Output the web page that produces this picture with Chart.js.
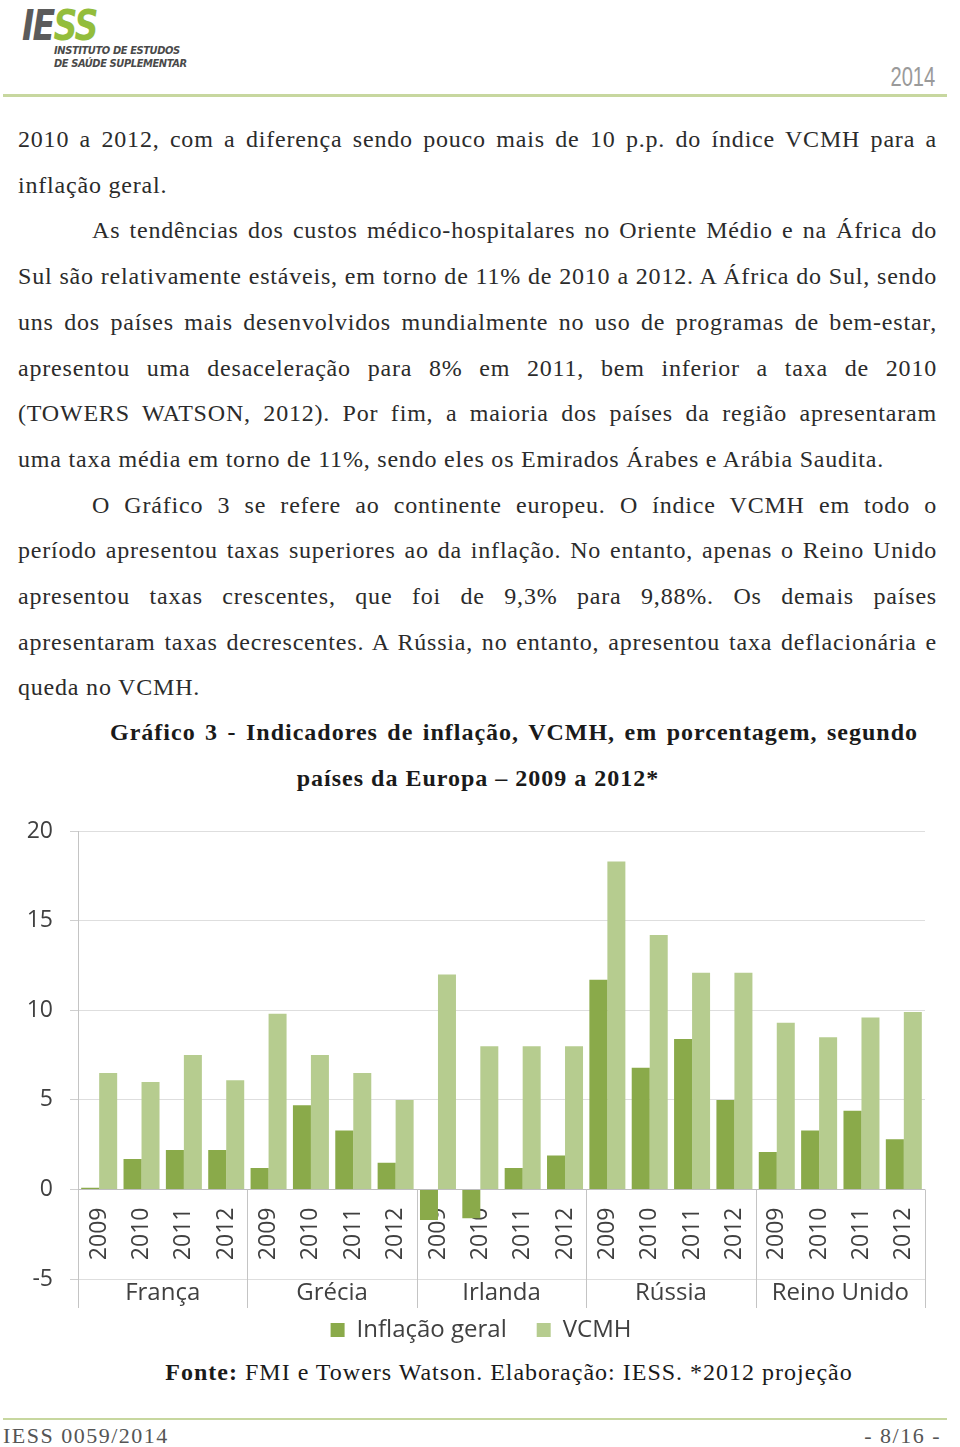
<!DOCTYPE html>
<html lang="pt">
<head>
<meta charset="utf-8">
<script src="https://cdn.jsdelivr.net/npm/chart.js@4/dist/chart.umd.min.js"></script>
<style>
  html, body { margin: 0; padding: 0; background: #fff; }
  body { width: 960px; height: 1447px; position: relative; overflow: hidden; }
  .abs { position: absolute; }
  .logo { left: 22px; top: 5px; font-family: "Liberation Sans Narrow", "DejaVu Sans Condensed", sans-serif; font-weight: bold; font-style: italic; font-size: 42px; letter-spacing: -2px; line-height: 42px; transform: scaleX(0.88); transform-origin: left top; }
  .logo .g { color: #5b5b5b; }
  .logo .v { color: #93bd3c; }
  .logosub { left: 54px; top: 44px; font-family: "Liberation Sans Narrow", "DejaVu Sans Condensed", sans-serif; font-weight: bold; font-style: italic; font-size: 11px; line-height: 13px; color: #4a4a4a; letter-spacing: -0.4px; }
  .year { right: 25px; top: 61px; font-family: "Liberation Sans", sans-serif; font-size: 28px; color: #9a9a9a; transform: scaleX(0.72); transform-origin: right top; }
  .rule { left: 3px; width: 944px; height: 3px; background: #c7d79f; }
  .text { left: 18px; width: 919px; top: 117px; font-family: "Liberation Serif", "DejaVu Serif", serif; font-size: 24px; letter-spacing: 0.8px; line-height: 45.7px; color: #2b2b2b; }
  .text div { white-space: nowrap; }
  .j { text-align: justify; text-align-last: justify; }
  .ind { padding-left: 74px; }
  .title { font-family: "Liberation Serif", serif; font-weight: bold; font-size: 24px; letter-spacing: 1px; color: #1a1a1a; white-space: nowrap; }
  .fonte { left: 0; width: 1018px; text-align: center; top: 1359px; font-family: "Liberation Serif", serif; font-size: 24px; letter-spacing: 1px; color: #1a1a1a; }
  .foot { top: 1423px; font-family: "Liberation Serif", serif; font-size: 22px; letter-spacing: 1.5px; color: #555; }
  #wrap { left: 0; top: 810px; width: 960px; height: 542px; }
</style>
</head>
<body>
<div class="abs logo"><span class="g">IE</span><span class="v">SS</span></div>
<div class="abs logosub">INSTITUTO DE ESTUDOS<br>DE SAÚDE SUPLEMENTAR</div>
<div class="abs year">2014</div>
<div class="abs rule" style="top:94px"></div>

<div class="abs text">
  <div class="j">2010 a 2012, com a diferença sendo pouco mais de 10 p.p. do índice VCMH para a</div>
  <div>inflação geral.</div>
  <div class="j ind">As tendências dos custos médico-hospitalares no Oriente Médio e na África do</div>
  <div class="j">Sul são relativamente estáveis, em torno de 11% de 2010 a 2012. A África do Sul, sendo</div>
  <div class="j">uns dos países mais desenvolvidos mundialmente no uso de programas de bem-estar,</div>
  <div class="j">apresentou uma desaceleração para 8% em 2011, bem inferior a taxa de 2010</div>
  <div class="j">(TOWERS WATSON, 2012). Por fim, a maioria dos países da região apresentaram</div>
  <div>uma taxa média em torno de 11%, sendo eles os Emirados Árabes e Arábia Saudita.</div>
  <div class="j ind">O Gráfico 3 se refere ao continente europeu. O índice VCMH em todo o</div>
  <div class="j">período apresentou taxas superiores ao da inflação. No entanto, apenas o Reino Unido</div>
  <div class="j">apresentou taxas crescentes, que foi de 9,3% para 9,88%. Os demais países</div>
  <div class="j">apresentaram taxas decrescentes. A Rússia, no entanto, apresentou taxa deflacionária e</div>
  <div>queda no VCMH.</div>
</div>

<div class="abs title j" style="left:110px; width:808px; top:719px;">Gráfico 3 - Indicadores de inflação, VCMH, em porcentagem, segundo</div>
<div class="abs title" style="left:0; width:956px; text-align:center; top:765px;">países da Europa – 2009 a 2012*</div>

<div class="abs" id="wrap"><canvas id="c" width="960" height="542"></canvas></div>

<div class="abs fonte"><b>Fonte:</b> FMI e Towers Watson. Elaboração: IESS. *2012 projeção</div>

<div class="abs rule" style="top:1418px; height:2px"></div>
<div class="abs foot" style="left:3px">IESS 0059/2014</div>
<div class="abs foot" style="right:19px">- 8/16 -</div>

<script>
const countries = ["França", "Grécia", "Irlanda", "Rússia", "Reino Unido"];
const years = ["2009", "2010", "2011", "2012"];
const categories = ["2009","2010","2011","2012","2009","2010","2011","2012","2009","2010","2011","2012","2009","2010","2011","2012","2009","2010","2011","2012"];
const inflacaoGeral = [0.1, 1.7, 2.2, 2.2, 1.2, 4.7, 3.3, 1.5, -1.7, -1.6, 1.2, 1.9, 11.7, 6.8, 8.4, 5.0, 2.1, 3.3, 4.4, 2.8];
const vcmh = [6.5, 6.0, 7.5, 6.1, 9.8, 7.5, 6.5, 5.0, 12.0, 8.0, 8.0, 8.0, 18.3, 14.2, 12.1, 12.1, 9.3, 8.5, 9.6, 9.9];
const yTicks = [-5, 0, 5, 10, 15, 20];

const FONT = "'Open Sans', 'Noto Sans', sans-serif";

const dividers = {
  id: 'dividers',
  afterLayout(chart) {
    // legend centred a little left of the plot, as in the original
    const lg = chart.legend;
    if (lg) { lg.left = chart.chartArea.left - 41; }
  },
  afterDraw(chart) {
    const xc = chart.scales.xc, y = chart.scales.y;
    const ctx = chart.ctx;
    const top = y.getPixelForValue(0);
    const bottom = xc.bottom;
    ctx.save();
    ctx.strokeStyle = '#c4c4c4';
    ctx.lineWidth = 1;
    for (let i = 0; i <= countries.length; i++) {
      const px = Math.round(xc.getPixelForValue(i - 0.5)) + 0.5;
      ctx.beginPath();
      ctx.moveTo(px, top);
      ctx.lineTo(px, bottom);
      ctx.stroke();
    }
    ctx.restore();
  }
};

new Chart(document.getElementById('c'), {
  type: 'bar',
  data: {
    labels: categories,
    datasets: [
      { label: 'Inflação geral', data: inflacaoGeral, backgroundColor: '#8aaa4a', xAxisID: 'x', categoryPercentage: 0.85, barPercentage: 1.0 },
      { label: 'VCMH', data: vcmh, backgroundColor: '#b6cc8f', xAxisID: 'x', categoryPercentage: 0.85, barPercentage: 1.0 }
    ]
  },
  options: {
    responsive: false,
    animation: false,
    layout: { padding: { left: 0, right: 35, top: 21, bottom: 0 } },
    plugins: {
      tooltip: { enabled: false },
      legend: {
        position: 'bottom',
        title: { display: true, text: '', font: { size: 10, lineHeight: 1 }, padding: { top: -30, bottom: 0 } },
        labels: { font: { family: FONT, size: 24 }, color: '#404040', boxWidth: 14, boxHeight: 14, padding: 30 }
      }
    },
    scales: {
      y: {
        min: -5, max: 20,
        afterBuildTicks(s) { s.ticks = yTicks.map(v => ({ value: v })); },
        afterFit(s) { s.width = 78; s.paddingTop = 0; },
        ticks: { font: { family: FONT, size: 23 }, color: '#404040', padding: 17 },
        grid: { color: (c) => c.tick && c.tick.value === 0 ? '#bdbdbd' : '#dedede', tickLength: 8, tickColor: '#cfcfcf' },
        border: { display: true, color: '#c4c4c4' }
      },
      x: {
        position: { y: 0 },
        offset: true,
        ticks: { font: { family: FONT, size: 23 }, color: '#404040', minRotation: 90, maxRotation: 90, autoSkip: false, padding: 10 },
        grid: { display: false },
        border: { display: false }
      },
      xc: {
        type: 'category',
        position: 'bottom',
        labels: countries,
        offset: true,
        ticks: { font: { family: FONT, size: 24 }, color: '#404040', padding: 0, maxRotation: 0 },
        grid: { display: false, drawTicks: false },
        border: { display: false }
      }
    }
  },
  plugins: [dividers]
});
</script>
</body>
</html>
